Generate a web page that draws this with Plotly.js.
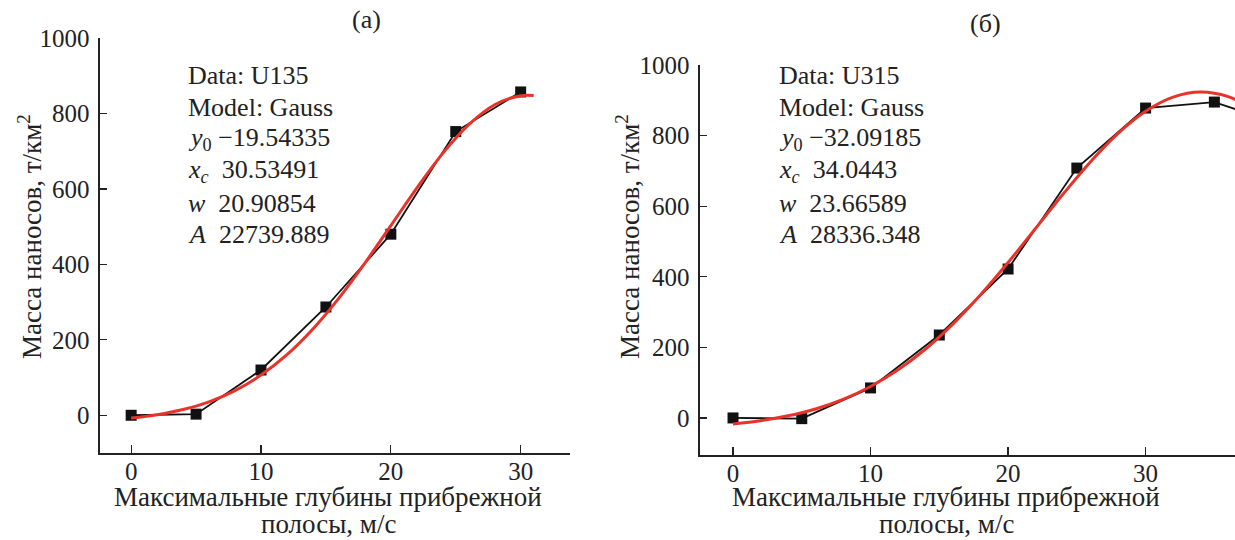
<!DOCTYPE html>
<html>
<head>
<meta charset="utf-8">
<script src="https://cdn.plot.ly/plotly-3.0.1.min.js"></script>
<style>html,body{margin:0;padding:0;background:#fff;}#chart{width:1235px;height:540px;}</style>
</head>
<body>
<div id="chart"></div>
<script>
// ---- data ----
const depthA = [0, 5, 10, 15, 20, 25, 30];
const massA = [0, 3, 120, 287, 480, 752, 857];
const depthB = [0, 5, 10, 15, 20, 25, 30, 35, 40];
const massB = [0, -2, 85, 235, 422, 708, 878, 895, 830];

// fitted Gauss curves
const fitXA = [0, 2, 4, 6, 8, 10, 12, 14, 16, 18, 20, 22, 24, 26, 28, 30, 31];
const fitYA = [-7.4, 1.4, 15.1, 35.7, 65.5, 106.5, 160.7, 228.9, 310.6, 403.4, 502.7, 602.3, 694.2, 770.3, 823.1, 847.1, 847.4];
const fitXB = [0, 2, 4, 6, 8, 10, 12, 14, 16, 18, 20, 22, 24, 26, 28, 30, 32, 34, 36, 38];
const fitYB = [-16.9, -7.7, 6.0, 25.5, 52.7, 89.1, 136.4, 195.4, 266.6, 348.9, 440.3, 537.0, 634.3, 726.2, 806.4, 869.0, 909.0, 923.2, 910.2, 871.3];

const xTicks = [0, 10, 20, 30];
const yTicks = [0, 200, 400, 600, 800, 1000];

const panelTitles = ['(a)', '(б)'];
const infoA = ['Data: U135', 'Model: Gauss', '<i>y</i><sub>0</sub> −19.54335', '<i>x<sub>c</sub></i>  30.53491', '<i>w</i>  20.90854', '<i>A</i>  22739.889'];
const infoB = ['Data: U315', 'Model: Gauss', '<i>y</i><sub>0</sub> −32.09185', '<i>x<sub>c</sub></i>  34.0443', '<i>w</i>  23.66589', '<i>A</i>  28336.348'];
const xTitle1 = 'Максимальные глубины прибрежной';
const xTitle2 = 'полосы, м/с';
const yTitle = 'Масса наносов, т/км<sup>2</sup>';

// ---- layout helpers ----
const W = 1235, H = 540;
const px = v => v / W;
const py = v => 1 - v / H;
const FONT = 'Liberation Serif, Times New Roman, serif';
const FS = 25;
const FS_INFO = 26;
const FS_TITLE = 27;

const traces = [
  {x: depthA, y: massA, xaxis: 'x', yaxis: 'y', mode: 'lines+markers', line: {color: '#111', width: 1.8}, marker: {symbol: 'square', size: 11, color: '#111'}},
  {x: fitXA, y: fitYA, xaxis: 'x', yaxis: 'y', mode: 'lines', line: {color: '#e8332b', width: 3, shape: 'spline'}},
  {x: depthB, y: massB, xaxis: 'x2', yaxis: 'y2', mode: 'lines+markers', line: {color: '#111', width: 1.8}, marker: {symbol: 'square', size: 11, color: '#111'}},
  {x: fitXB, y: fitYB, xaxis: 'x2', yaxis: 'y2', mode: 'lines', line: {color: '#e8332b', width: 3, shape: 'spline'}}
];

function xa(domain, range) {
  return {domain: domain, range: range, tickvals: xTicks, ticktext: xTicks.map(String), ticks: 'inside', ticklen: 8, tickwidth: 1.3, tickcolor: '#222',
    showline: true, linecolor: '#222', linewidth: 1.6, showgrid: false, zeroline: false, ticklabelstandoff: -5,
    tickfont: {family: FONT, size: FS, color: '#222'}};
}
function ya(domain, range, anchor) {
  return {domain: domain, range: range, anchor: anchor, tickvals: yTicks, ticktext: yTicks.map(String), ticks: 'inside', ticklen: 7, tickwidth: 1.3, tickcolor: '#222',
    showline: true, linecolor: '#222', linewidth: 1.6, showgrid: false, zeroline: false, ticklabelstandoff: 4,
    tickfont: {family: FONT, size: FS, color: '#222'}};
}

const ann = [];
function txt(text, x, y, size, opts) {
  ann.push(Object.assign({text: text, x: px(x), y: py(y), xref: 'paper', yref: 'paper', showarrow: false,
    xanchor: 'center', yanchor: 'middle',
    font: {family: FONT, size: size, color: '#222'}}, opts || {}));
}
txt(panelTitles[0], 366, 20, FS_INFO);
txt(panelTitles[1], 985, 24, FS_INFO);
const lineY = [76, 107, 139, 171, 203, 235];
infoA.forEach((t, i) => txt(t, 186, lineY[i], FS_INFO, {xanchor: 'left'}));
infoB.forEach((t, i) => txt(t, 777, lineY[i], FS_INFO, {xanchor: 'left'}));
txt(xTitle1, 328, 497, FS_TITLE);
txt(xTitle2, 328, 524, FS_TITLE, {yanchor: 'middle'});
txt(xTitle1, 946, 497, FS_TITLE);
txt(xTitle2, 946, 524, FS_TITLE, {yanchor: 'middle'});
txt(yTitle, 30, 237, FS_TITLE, {textangle: -90});
txt(yTitle, 628, 237, FS_TITLE, {textangle: -90});

const layout = {
  width: W, height: H,
  margin: {l: 0, r: 0, t: 0, b: 0},
  paper_bgcolor: '#fff', plot_bgcolor: '#fff',
  showlegend: false,
  xaxis: xa([px(100), px(570)], [-2.4, 33.8]),
  yaxis: ya([py(453), py(38)], [-100, 1000], 'x'),
  xaxis2: Object.assign(xa([px(700), 1], [-2.4, 36.5]), {anchor: 'y2'}),
  yaxis2: ya([py(455), py(65)], [-105, 1000], 'x2'),
  annotations: ann
};

Plotly.newPlot('chart', traces, layout, {staticPlot: true, displayModeBar: false});
</script>
</body>
</html>
